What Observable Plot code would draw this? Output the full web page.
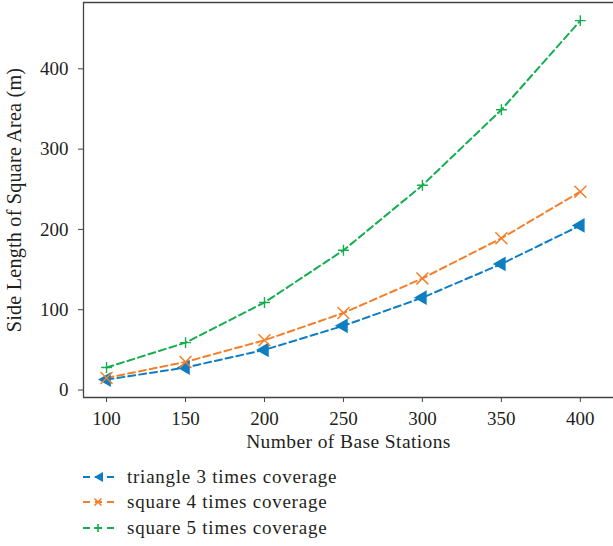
<!DOCTYPE html>
<html><head><meta charset="utf-8">
<script src="https://cdn.jsdelivr.net/npm/d3@7"></script>
<script src="https://cdn.jsdelivr.net/npm/@observablehq/plot@0.6"></script>
<style>
body{margin:0;background:#fff;font-family:"Liberation Serif",serif;color:#231f20;}
#legend{margin-left:83px;margin-top:6px;font-size:19px;letter-spacing:0.75px;}
.item{display:flex;align-items:center;height:25.5px;}
.item svg{margin-right:10px;}
g[aria-label="y-axis label"] text{font-size:20.2px;letter-spacing:0.2px;}
g[aria-label="x-axis label"] text{font-size:19.5px;letter-spacing:0.4px;}
</style></head><body>
<div id="chart"></div>
<div id="legend"></div>
<script>
const stations = [100, 150, 200, 250, 300, 350, 400];
const triangle3 = [13, 28, 50, 80, 115, 157, 205];
const square4 = [15, 35, 62, 96, 139, 189, 247];
const square5 = [28, 59, 109, 174, 255, 349, 460];
const seriesNames = ["triangle 3 times coverage", "square 4 times coverage", "square 5 times coverage"];
const colors = ["#0e7ec2", "#f47f2a", "#15ad4f"];
const xTicks = [100, 150, 200, 250, 300, 350, 400];
const yTicks = [0, 100, 200, 300, 400];

const rows = [];
[triangle3, square4, square5].forEach((vals, i) =>
  vals.forEach((v, j) => rows.push({x: stations[j], y: v, s: seriesNames[i]})));
const ser = i => rows.filter(d => d.s === seriesNames[i]);

const font = "Liberation Serif";
const chart = Plot.plot({
  width: 613, height: 458,
  marginLeft: 83, marginTop: 2, marginRight: 0, marginBottom: 61,
  style: {fontFamily: font, fontSize: "19px", color: "#231f20", background: "#fff"},
  x: {domain: [85.4, 421]},
  y: {domain: [-9.3, 482.6]},
  marks: [
    Plot.axisX({ticks: xTicks, tickSize: 5, tickPadding: 9, stroke: "#444", label: "Number of Base Stations", labelAnchor: "center", labelOffset: 50, labelArrow: "none", fontSize: 19}),
    Plot.axisY({ticks: yTicks, tickSize: 5, tickPadding: 10, stroke: "#444", label: "Side Length of Square Area (m)", labelAnchor: "center", labelOffset: 77, labelArrow: "none", fontSize: 19}),
    Plot.ruleX([85.4], {stroke: "#444", strokeWidth: 1.3}),
    Plot.ruleY([-9.3, 482.6], {stroke: "#444", strokeWidth: 1.3}),
    ...[0,1,2].map(i => Plot.line(ser(i), {x: "x", y: "y", stroke: colors[i], strokeWidth: 2, strokeDasharray: "7,4"})),
    Plot.dot(ser(0), {x: "x", y: "y", symbol: "triangle", r: 5.5, fill: colors[0], rotate: -90}),
    Plot.dot(ser(1), {x: "x", y: "y", symbol: "times", r: 5.5, stroke: colors[1], strokeWidth: 1.5}),
    Plot.dot(ser(2), {x: "x", y: "y", symbol: "plus", r: 3.6, stroke: colors[2], strokeWidth: 1.4})
  ]
});
document.getElementById("chart").appendChild(chart);

const markers = [
  '<path d="M11,10 L20,5 L20,15 Z" fill="C"/>',
  '<path d="M11.5,6.5 L18.5,13.5 M18.5,6.5 L11.5,13.5" stroke="C" stroke-width="1.6"/>',
  '<path d="M15,6 V14 M11,10 H19" stroke="C" stroke-width="1.6"/>'
];
const leg = document.getElementById("legend");
seriesNames.forEach((n, i) => {
  const d = document.createElement("div");
  d.className = "item";
  d.innerHTML = `<svg width="34" height="20"><line x1="0" y1="10" x2="34" y2="10" stroke="${colors[i]}" stroke-width="2" stroke-dasharray="7,5"/>${markers[i].replace(/C/g, colors[i])}</svg><span>${n}</span>`;
  leg.appendChild(d);
});
</script></body></html>
